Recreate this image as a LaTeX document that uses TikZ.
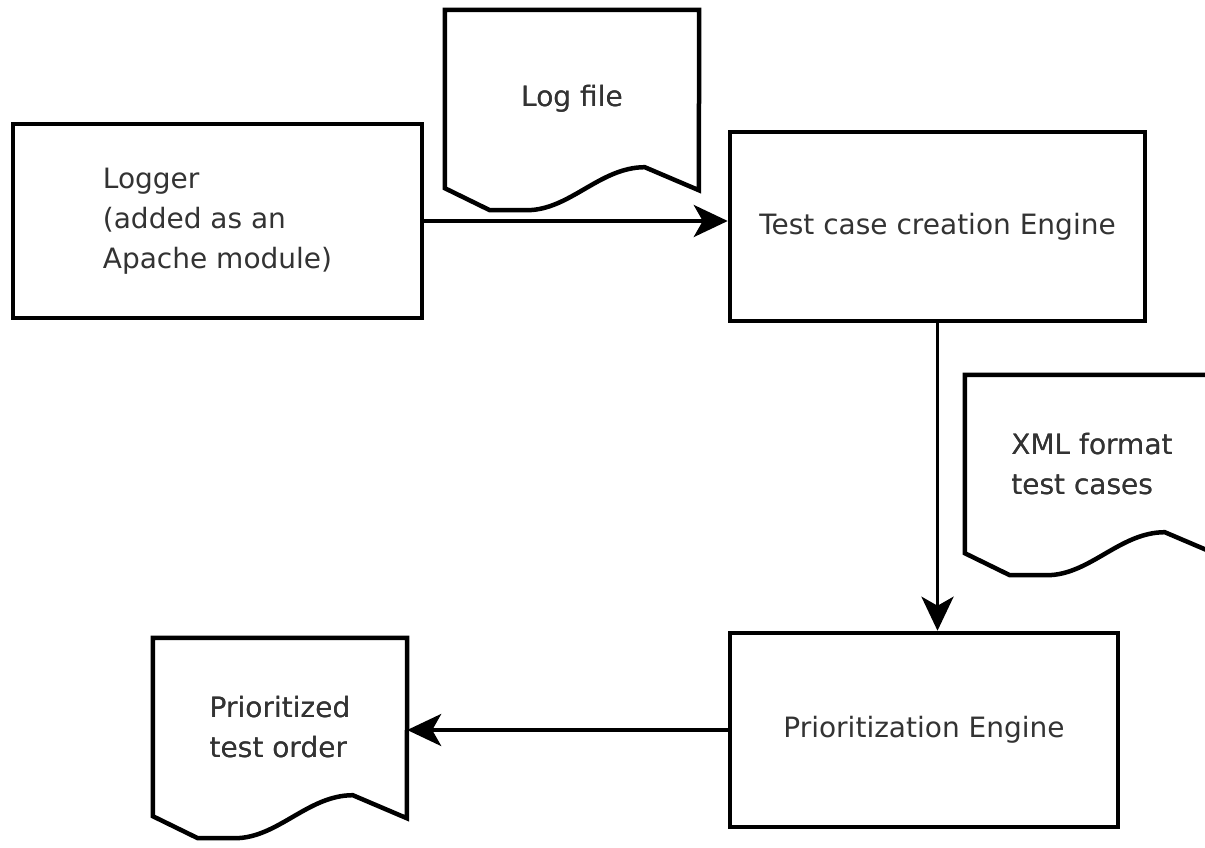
\documentclass[tikz,border=0pt]{standalone}
\usepackage{fontspec}
\setmainfont{DejaVu Sans}
\usepackage{tikz}
\usetikzlibrary{arrows.meta, positioning, calc}

\tikzset{
  box/.style={draw=black, line width=4.5pt, fill=white, text=black!80,
    font=\fontsize{28pt}{40pt}\selectfont, align=left},
  docnode/.style={text=black!80, font=\fontsize{28pt}{40pt}\selectfont,
    align=left, minimum width=254pt, minimum height=178pt, inner sep=0pt},
  outline/.style={draw=black, line width=4.5pt, line join=miter},
  flow/.style={draw=black, line width=3.8pt,
    -{Stealth[length=34pt, width=32pt, inset=9pt]}}
}

% document symbol with a torn lower edge
\newcommand{\docoutline}[1]{%
  \draw[outline] (#1.north west) -- (#1.south west)
    -- ([shift={(45,22)}]#1.south west) -- ([shift={(82,22)}]#1.south west)
    .. controls ([shift={(125,22)}]#1.south west) and ([shift={(155,-21)}]#1.south west)
    .. ([shift={(200,-21)}]#1.south west)
    -- ([shift={(254,2)}]#1.south west) -- (#1.north east) -- cycle;}

\begin{document}
\begin{tikzpicture}[x=1pt, y=-1pt]
\useasboundingbox[fill=white] (0,0) rectangle (1205,848);
\clip (0,0) rectangle (1205,848);

\node[box, minimum width=409pt, minimum height=194pt] (logger) at (217.5,221)
  {Logger\\(added as an\\Apache module)};
\node[box, minimum width=415pt, minimum height=189pt] (creation) at (937.5,226.5)
  {Test case creation Engine};
\node[box, minimum width=388pt, minimum height=194pt] (prio) at (924,730)
  {Prioritization Engine};

\node[docnode] (logfile) at (572,99) {Log file};
\node[docnode] (xmlcases) at (1092,464) {XML format\\test cases};
\node[docnode] (order) at (280,727) {Prioritized\\test order};

\docoutline{logfile}
\docoutline{xmlcases}
\docoutline{order}

% re-typeset the labels on top of the outlines
\node[docnode] at (logfile) {Log file};
\node[docnode] at (xmlcases) {XML format\\test cases};
\node[docnode] at (order) {Prioritized\\test order};

\draw[flow] (logger.east) -- (logger.east -| creation.west);
\draw[flow] (creation.south) -- (creation.south |- prio.north);
\draw[flow] (prio.west) -- (prio.west -| order.east);
\end{tikzpicture}
\end{document}
